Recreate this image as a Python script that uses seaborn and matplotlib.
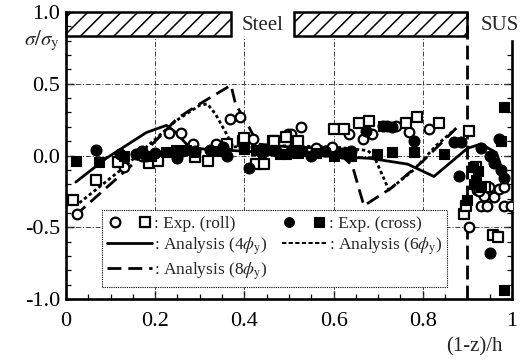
import numpy as np
import pandas as pd
import seaborn as sns
import matplotlib
matplotlib.use("Agg")
import matplotlib.pyplot as plt
from matplotlib.patches import Rectangle
from matplotlib.lines import Line2D
from matplotlib.legend_handler import HandlerTuple
from matplotlib.ticker import MultipleLocator, FixedLocator

sns.set_theme(style="ticks")
plt.rcParams['font.family'] = ['Liberation Serif', 'DejaVu Serif']
plt.rcParams['mathtext.fontset'] = 'stix'
plt.rcParams['hatch.linewidth'] = 1.1

# ---- measured residual stress, roll-formed specimens (open symbols) ----
roll_circ_x = [0.025, 0.131, 0.232, 0.258, 0.285, 0.337, 0.367, 0.39, 0.42, 0.40, 0.46,
               0.498, 0.504, 0.526, 0.56, 0.597, 0.634, 0.665, 0.687, 0.72, 0.74, 0.769,
               0.814, 0.904, 0.922, 0.93, 0.937, 0.945, 0.96, 0.971, 0.983, 0.998, 0.983,
               0.949, 0.926, 0.17, 0.36]
roll_circ_y = [-0.41, -0.08, 0.16, 0.16, 0.08, 0.08, 0.255, 0.266, 0.116, 0.06, 0.05,
               0.15, 0.15, 0.197, 0.05, 0.058, 0.15, 0.116, 0.15, 0.208, 0.208, 0.162,
               0.185, -0.5, -0.24, -0.35, -0.28, -0.35, -0.29, -0.23, -0.35, -0.35, -0.22,
               -0.22, -0.25, 0.0, 0.07]
roll_sq_x = [0.016, 0.067, 0.116, 0.187, 0.206, 0.29, 0.318, 0.36, 0.397, 0.425, 0.443,
             0.464, 0.494, 0.515, 0.601, 0.623, 0.657, 0.68, 0.762, 0.788, 0.837, 0.904,
             0.893, 0.897, 0.957, 0.968, 0.40, 0.466, 0.52, 0.94, 0.92]
roll_sq_y = [-0.31, -0.17, -0.047, -0.05, -0.035, -0.01, -0.035, 0.08, 0.104, -0.06, -0.06,
             0.104, 0.127, 0.092, 0.185, 0.185, 0.23, 0.24, 0.23, 0.266, 0.23, 0.174,
             -0.405, -0.35, -0.555, -0.57, 0.12, 0.10, 0.10, -0.22, -0.08]

# ---- measured residual stress, cross-section specimens (filled symbols) ----
cross_circ_x = [0.067, 0.12, 0.157, 0.17, 0.18, 0.25, 0.322, 0.352, 0.36, 0.41, 0.44,
                0.47, 0.50, 0.53, 0.55, 0.58, 0.62, 0.64, 0.672, 0.71, 0.73, 0.78,
                0.87, 0.885, 0.882, 0.951, 0.972, 0.983, 0.975, 0.93, 0.95, 0.96,
                0.20, 0.26, 0.29]
cross_circ_y = [0.035, 0.012, 0.012, 0.03, 0.0, -0.02, 0.035, 0.058, 0.0, -0.09, 0.02,
                0.03, 0.02, 0.03, 0.0, 0.03, 0.02, 0.03, 0.174, 0.208, 0.2, 0.104,
                0.093, 0.093, -0.14, -0.68, 0.116, -0.16, -0.10, 0.05, 0.0, -0.05,
                0.02, 0.03, 0.03]
cross_sq_x = [0.022, 0.075, 0.13, 0.225, 0.247, 0.27, 0.29, 0.40, 0.427, 0.45, 0.48,
              0.494, 0.52, 0.56, 0.60, 0.64, 0.698, 0.732, 0.78, 0.848, 0.71, 0.983,
              0.975, 0.912, 0.923, 0.915, 0.919, 0.93, 0.90, 0.981, 0.19, 0.34]
cross_sq_y = [-0.035, -0.047, 0.0, 0.023, 0.035, 0.035, 0.023, 0.047, 0.035, 0.035, 0.012,
              0.012, 0.02, 0.02, 0.0, 0.0, 0.012, 0.023, 0.023, 0.012, 0.208, 0.335,
              0.104, -0.08, -0.105, -0.2, -0.17, -0.22, -0.31, -0.94, 0.0, 0.03]

# ---- analysis curves ----
a4_x = [0.022, 0.09, 0.15, 0.18, 0.225, 0.247, 0.27, 0.30, 0.40, 0.50, 0.683,
        0.766, 0.825, 0.90, 0.93, 0.965, 0.975]
a4_y = [-0.185, -0.02, 0.10, 0.16, 0.21, 0.16, 0.08, 0.047, 0.03, 0.01, -0.02,
        -0.06, -0.146, 0.05, 0.08, 0.02, -0.07]
a6_x = [0.03, 0.127, 0.195, 0.247, 0.30, 0.317, 0.335, 0.36, 0.375, 0.45, 0.60,
        0.676, 0.69, 0.724, 0.78, 0.83, 0.875]
a6_y = [-0.33, -0.09, 0.10, 0.243, 0.35, 0.36, 0.29, 0.15, 0.06, 0.07, 0.06,
        0.035, 0.0, -0.24, -0.10, 0.07, 0.19]
a8_x = [0.02, 0.15, 0.25, 0.30, 0.37, 0.38, 0.41, 0.43, 0.50, 0.60, 0.642,
        0.668, 0.728, 0.80, 0.875]
a8_y = [-0.42, -0.06, 0.26, 0.36, 0.49, 0.36, 0.20, 0.08, 0.06, 0.05, -0.07,
        -0.35, -0.23, -0.04, 0.19]

x_ticks = [0, 0.2, 0.4, 0.6, 0.8, 1.0]
x_ticklabels = ["0", "0.2", "0.4", "0.6", "0.8", "1"]
y_ticks = [-1.0, -0.5, 0.0, 0.5, 1.0]
y_ticklabels = ["-1.0", "-0.5", "0.0", "0.5", "1.0"]

fig = plt.figure(figsize=(5.22, 3.6), dpi=100)
ax = fig.add_axes([0.1264, 0.1694, 0.8544, 0.7972])
ax.set_facecolor('white')
ax.set_xlim(0, 1)
ax.set_ylim(-1, 1)

band_lo = 0.833
grid_style = dict(color='0.25', lw=0.7, ls=(0, (5, 2, 1, 2)), zorder=1)
for gx in [0.2, 0.4, 0.6, 0.8]:
    ax.axvline(gx, ymin=0, ymax=(band_lo + 1) / 2, **grid_style)
for gy in [-0.5, 0.0, 0.5]:
    ax.axhline(gy, **grid_style)

# material zones along the top
for x0, x1 in [(0.0, 0.369), (0.511, 0.9)]:
    ax.add_patch(Rectangle((x0, band_lo), x1 - x0, 1 - band_lo, fill=False,
                           hatch='//', edgecolor='black', lw=1.8, zorder=3,
                           clip_on=False))
ax.text(0.44, 0.905, "Steel", ha='center', va='center', fontsize=15)
ax.text(0.972, 0.905, "SUS", ha='center', va='center', fontsize=15, clip_on=False)

# steel / stainless boundary
ax.axvline(0.9, color='black', lw=2.0, ls=(0, (5, 2.2)), zorder=4)

lw_curve = 2.0
sns.lineplot(x=a4_x, y=a4_y, ax=ax, color='black', lw=lw_curve, sort=False,
             estimator=None, zorder=5)
sns.lineplot(x=a6_x, y=a6_y, ax=ax, color='black', lw=2.0, sort=False,
             estimator=None, linestyle=(0, (1.2, 1.0)), zorder=5)
sns.lineplot(x=a8_x, y=a8_y, ax=ax, color='black', lw=lw_curve, sort=False,
             estimator=None, linestyle=(0, (5, 2.5)), zorder=5)

ms = 48
sns.scatterplot(x=roll_circ_x, y=roll_circ_y, ax=ax, marker='o', s=ms, color='white',
                edgecolor='black', linewidth=1.6, zorder=6)
sns.scatterplot(x=roll_sq_x, y=roll_sq_y, ax=ax, marker='s', s=ms, color='white',
                edgecolor='black', linewidth=1.6, zorder=6)
sns.scatterplot(x=cross_circ_x, y=cross_circ_y, ax=ax, marker='o', s=ms + 14, color='black',
                edgecolor='black', linewidth=0.8, zorder=6)
sns.scatterplot(x=cross_sq_x, y=cross_sq_y, ax=ax, marker='s', s=ms + 8, color='black',
                edgecolor='black', linewidth=0.8, zorder=6)

# axes frame
for side in ['top', 'right']:
    ax.spines[side].set_visible(False)
for side in ['left', 'bottom']:
    ax.spines[side].set_color('black')
    ax.spines[side].set_linewidth(1.9)
    ax.spines[side].set_zorder(7)

ax.set_xticks(x_ticks)
ax.set_xticklabels(x_ticklabels)
ax.xaxis.set_minor_locator(MultipleLocator(0.05))
ax.set_yticks(y_ticks)
ax.set_yticklabels(y_ticklabels)
ax.yaxis.set_minor_locator(MultipleLocator(0.1))
ax.tick_params(axis='both', which='major', direction='in', length=6, width=1.0,
               labelsize=16, colors='black', right=False, top=False)
ax.tick_params(axis='both', which='minor', direction='in', length=3.5, width=0.9,
               colors='black', right=False, top=False)
ax.tick_params(axis='x', which='major', pad=9)
ax.tick_params(axis='y', which='major', pad=4)

# right-hand frame stops below the zone band
sec = ax.secondary_yaxis('right')
sec.spines['right'].set_bounds(-1, 0.8)
sec.spines['right'].set_linewidth(1.9)
sec.spines['right'].set_color('black')
sec.set_yticks([-1.0, -0.5, 0.0, 0.5])
sec.yaxis.set_minor_locator(FixedLocator([-0.9, -0.8, -0.7, -0.6, -0.4, -0.3, -0.2, -0.1,
                                          0.1, 0.2, 0.3, 0.4, 0.6, 0.7]))
sec.tick_params(which='major', direction='in', length=6, width=1.0, labelright=False, colors='black')
sec.tick_params(which='minor', direction='in', length=3.5, width=0.9, colors='black')
sec.set_yticklabels([])

ax.set_xlabel("")
ax.set_ylabel("")
ax.text(-0.015, 0.80, r"$\sigma/\sigma_{\mathrm{y}}$", transform=ax.transData,
        ha='right', va='center', fontsize=15, clip_on=False)
ax.text(0.978, -0.167, "(1-z)/h", transform=ax.transAxes, ha='right', va='center',
        fontsize=15)

# legend
mk = dict(ls='none', mec='black', markersize=7)
h_roll = (Line2D([], [], marker='o', mfc='white', mew=1.6, **mk),
          Line2D([], [], marker='s', mfc='white', mew=1.6, **mk))
h_cross = (Line2D([], [], marker='o', mfc='black', mew=0.8, **mk),
           Line2D([], [], marker='s', mfc='black', mew=0.8, **mk))
h4 = Line2D([], [], color='black', lw=2.0)
h6 = Line2D([], [], color='black', lw=1.4, ls=(0, (2.2, 1.2)))
h8 = Line2D([], [], color='black', lw=2.0, ls=(0, (5, 2.5)))
leg = ax.legend([h_roll, h4, h8, h_cross, h6],
                [": Exp. (roll)", r": Analysis (4$\phi_{\mathrm{y}}$)",
                 r": Analysis (8$\phi_{\mathrm{y}}$)", ": Exp. (cross)",
                 r": Analysis (6$\phi_{\mathrm{y}}$)"],
                ncol=2, loc='lower left', bbox_to_anchor=(0.081, 0.042),
                handler_map={tuple: HandlerTuple(ndivide=None, pad=0.8)},
                fontsize=12.5, handlelength=2.6, handletextpad=0.1,
                columnspacing=0.8, labelspacing=0.2, borderpad=0.3,
                borderaxespad=0.0, fancybox=False, framealpha=1.0)
leg.get_frame().set_edgecolor('black')
leg.get_frame().set_linewidth(0.8)
leg.get_frame().set_linestyle((0, (1, 1)))
leg.set_zorder(8)

fig.savefig("out.png", dpi=100, facecolor='white')
